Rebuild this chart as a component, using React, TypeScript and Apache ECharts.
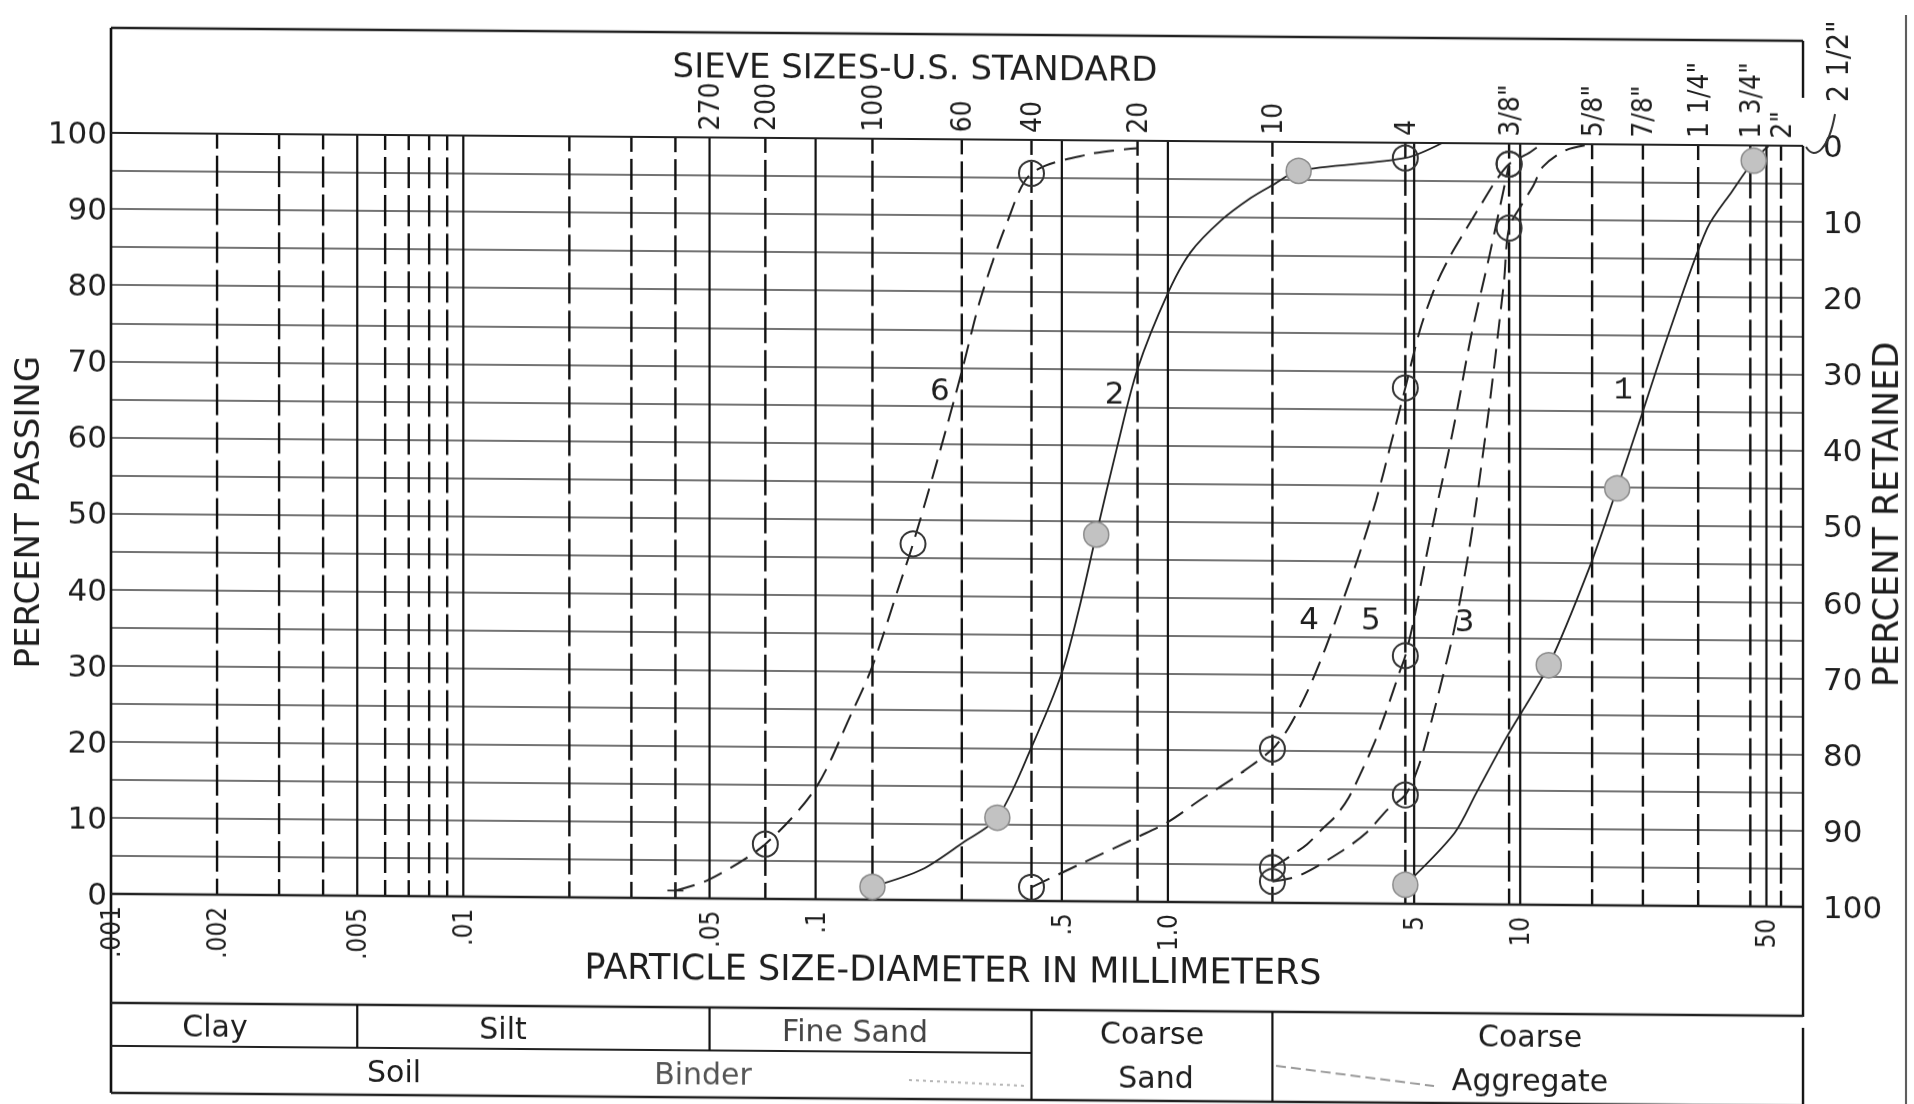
import React, { useEffect, useRef } from 'react';
import * as echarts from 'echarts';

// ---------------- data ----------------
// particle size axis (mm, log scale)
const mmMin = 0.001;
const mmMax = 63.5; // 2 1/2"
const mmTickValues = [0.001, 0.002, 0.005, 0.01, 0.05, 0.1, 0.5, 1, 5, 10, 50];
const mmTickLabels = ['.001', '.002', '.005', '.01', '.05', '.1', '.5', '1.0', '5', '10', '50'];
const solidMmLines = [0.005, 0.01, 0.05, 0.1, 0.5, 1, 5, 10, 50];
const dashedMmLines = [0.002, 0.003, 0.004, 0.006, 0.007, 0.008, 0.009, 0.02, 0.03, 0.04];

// sieve sizes (top axis) and where their lines are drawn (mm)
const sieveLabels = ['270', '200', '100', '60', '40', '20', '10', '4', '3/8"', '5/8"', '7/8"', '1 1/4"', '1 3/4"', '2"'];
const sieveMm = [0.05, 0.072, 0.145, 0.26, 0.41, 0.82, 1.98, 4.72, 9.3, 16, 22.3, 32, 45, 55];
const edgeSieveLabel = '2 1/2"';

// soil classification table
const soilBounds = [0.005, 0.05, 0.41, 1.98];
const soilTopRow = ['Clay', 'Silt', 'Fine Sand', 'Coarse', 'Coarse'];
const soilBottomRow = ['Soil', 'Binder', 'Sand', 'Aggregate'];

// curves: [mm, percent passing, marker] marker: 0 none, 1 open circle, 2 shaded circle, 3 plus
type Pt = [number, number, number];
const curve1: Pt[] = [
  [4.72, 2.5, 2], [6.5, 9.3, 0], [7.5, 14.6, 0], [9.1, 21.8, 0], [12.05, 31.5, 2], [15.7, 44.3, 0],
  [18.85, 54.8, 2], [21.6, 63, 0], [26.3, 75, 0], [33.9, 89, 0], [40, 94, 0], [46, 98, 2], [50.8, 100, 0],
];
const curve2: Pt[] = [
  [0.145, 1.7, 2], [0.2, 4, 0], [0.262, 7.6, 0], [0.328, 10.9, 2], [0.41, 20.2, 0], [0.5, 30, 0],
  [0.56, 38.5, 0], [0.626, 48.2, 2], [0.72, 60, 0], [0.82, 70, 0], [1.0, 80, 0], [1.16, 85.4, 0],
  [1.415, 89.6, 0], [1.72, 92.6, 0], [1.98, 94.3, 0], [2.35, 96.2, 2], [4.72, 98, 1], [6.0, 100, 0],
];
const curve3: Pt[] = [
  [1.98, 2.8, 1], [2.36, 3.6, 0], [3.08, 6.7, 0], [3.66, 9.3, 0], [4.21, 12.4, 0], [4.72, 14.3, 1],
  [5.14, 18, 0], [5.56, 23.5, 0], [6.0, 29.5, 0], [6.42, 35, 0], [6.85, 41.5, 0], [7.3, 49, 0],
  [7.75, 57.5, 0], [8.2, 66, 0], [8.65, 75, 0], [9.0, 82, 0], [9.3, 88.9, 1], [10.1, 92, 0],
  [10.9, 94.5, 0], [11.6, 97, 0], [13.5, 99.2, 0], [16, 100, 0],
];
const curve4: Pt[] = [
  [0.41, 1.8, 1], [0.57, 5, 0], [0.82, 8.5, 0], [1.0, 10.5, 0], [1.24, 13.5, 0], [1.61, 17, 0],
  [1.98, 20.2, 1], [2.2, 23, 0], [2.5, 28, 0], [2.8, 33.5, 0], [3.15, 40, 0], [3.5, 46, 0], [3.9, 53, 0],
  [4.3, 60.5, 0], [4.72, 67.8, 1], [5.2, 75.5, 0], [5.75, 81.2, 0], [6.3, 85, 0], [7.0, 88.6, 0],
  [7.8, 92.2, 0], [8.5, 95, 0], [9.3, 97.3, 1], [10.6, 98.8, 0], [11.5, 100, 0],
];
const curve5: Pt[] = [
  [1.98, 4.6, 1], [2.2, 6, 0], [2.48, 7.7, 0], [2.75, 9.8, 0], [3.0, 11.5, 0], [3.26, 13.9, 0],
  [3.55, 17.4, 0], [3.87, 21.3, 0], [4.21, 25.9, 0], [4.55, 30.5, 0], [4.72, 32.6, 1], [5.0, 37.5, 0],
  [5.35, 44.5, 0], [5.75, 51.5, 0], [6.2, 58.5, 0], [6.65, 65.4, 0], [7.25, 74.6, 0], [8.2, 85.5, 0],
  [9.3, 97.3, 1],
];
const curve6: Pt[] = [
  [0.04, 1, 3], [0.05, 2.5, 0], [0.072, 7.2, 1], [0.1, 14.6, 0], [0.126, 24.3, 0], [0.145, 30.7, 0],
  [0.173, 41.4, 0], [0.189, 46.8, 1], [0.2254, 59, 0], [0.26, 69.5, 0], [0.294, 79.1, 0], [0.35, 89.2, 0],
  [0.41, 95.6, 1], [0.6, 98.2, 0], [0.82, 99, 0],
];
const curveNames = ['1', '2', '3', '4', '5', '6'];
const curveData = [curve1, curve2, curve3, curve4, curve5, curve6];
const curveDashed = [false, false, true, true, true, true];
// curve number labels placed at [mm, percent]
const curveLabelPos: [string, number, number][] = [
  ['6', 0.2254, 67.2], ['2', 0.706, 66.9], ['4', 2.515, 37.5], ['5', 3.77, 37.4], ['3', 6.95, 37.3], ['1', 19.6, 67.7],
];

// ---------------- styling ----------------
const COND = '"DejaVu Sans Condensed", "DejaVu Sans", sans-serif';
const WIDE = '"DejaVu Sans", sans-serif';
const INK = '#1e1e1e';
const PLUS = 'path://M0,9L20,9L20,11L0,11Z M9,0L11,0L11,20L9,20Z';

function markerProps(m: number): any {
  if (m === 1) {
    return { symbol: 'circle', symbolSize: 25, itemStyle: { color: 'rgba(255,255,255,0)', borderColor: '#333', borderWidth: 2 } };
  }
  if (m === 2) {
    return { symbol: 'circle', symbolSize: 25, itemStyle: { color: '#c2c2c2', borderColor: '#8c8c8c', borderWidth: 1.5 } };
  }
  if (m === 3) {
    return { symbol: PLUS, symbolSize: 16, itemStyle: { color: '#222' } };
  }
  return { symbol: 'none' };
}

export default function App() {
  const ref = useRef<HTMLDivElement>(null);

  useEffect(() => {
    const el = ref.current;
    if (!el) return;
    const chart = echarts.init(el, undefined, { renderer: 'svg' });

    const series: any[] = curveData.map((pts, i) => ({
      type: 'line',
      name: curveNames[i],
      silent: true,
      smooth: 0.3,
      showSymbol: true,
      showAllSymbol: true,
      z: 4,
      lineStyle: { color: '#222', width: curveDashed[i] ? 2 : 1.8, type: curveDashed[i] ? [20, 10] : 'solid' },
      data: pts.map(([x, y, m]) => ({ value: [x, y], ...markerProps(m) })),
    }));

    chart.setOption({
      animation: false,
      backgroundColor: '#ffffff',
      grid: { left: 111, right: 111, top: 132, bottom: 211, show: false },
      xAxis: {
        type: 'log',
        logBase: 10,
        min: mmMin,
        max: mmMax,
        axisLine: { show: false },
        axisTick: { show: false },
        axisLabel: { show: false },
        splitLine: { show: false },
      },
      yAxis: [
        {
          type: 'value',
          min: 0,
          max: 100,
          interval: 5,
          axisLine: { show: false },
          axisTick: { show: false },
          axisLabel: {
            formatter: (v: number) => (v % 10 === 0 ? String(v) : ''),
            fontSize: 31,
            fontFamily: WIDE,
            color: INK,
            margin: 4,
          },
          splitLine: { show: true, lineStyle: { color: '#444', width: 1.5 } },
        },
        {
          type: 'value',
          position: 'right',
          inverse: true,
          min: 0,
          max: 100,
          interval: 10,
          axisLine: { show: false },
          axisTick: { show: false },
          splitLine: { show: false },
          axisLabel: { fontSize: 31, fontFamily: WIDE, color: INK, margin: 20 },
        },
      ],
      series,
    });

    const X = (v: number) => chart.convertToPixel({ xAxisIndex: 0 }, v) as unknown as number;
    const Y = (v: number) => chart.convertToPixel({ yAxisIndex: 0 }, v) as unknown as number;
    const top = Y(100);
    const bot = Y(0);
    const left = X(mmMin);
    const right = X(mmMax);
    const P = (bot - top) / 20;

    const g: any[] = [];
    const line = (x1: number, y1: number, x2: number, y2: number, w: number, stroke = '#111', dash?: number[], off = 0) =>
      g.push({
        type: 'line',
        silent: true,
        z: 1,
        shape: { x1, y1, x2, y2 },
        style: { stroke, lineWidth: w, lineDash: dash || null, lineDashOffset: off },
      });
    const text = (t: string, x: number, y: number, size: number, o: any = {}) =>
      g.push({
        type: 'text',
        silent: true,
        z: 6,
        x,
        y,
        rotation: o.rot || 0,
        style: {
          text: t,
          fontSize: size,
          fontFamily: o.family || COND,
          fill: o.fill || INK,
          align: o.align || 'center',
          verticalAlign: o.va || 'middle',
        },
      });

    // vertical grid lines
    const vdash = [P - 7, 7];
    const voff = P / 2 - 3.5;
    solidMmLines.forEach((v) => line(X(v), top, X(v), bot, 2.2));
    dashedMmLines.forEach((v) => line(X(v), top, X(v), bot, 2.4, '#111', vdash, voff));
    sieveMm.forEach((v, i) => {
      if (i === 0) return; // 270 sits on the .05 line
      line(X(v), top, X(v), bot, 2.4, '#111', vdash, voff);
    });

    // frame
    const frameTop = 27;
    const tableTop = 1002;
    const tableMid = 1045;
    const tableBot = 1092;
    line(left, frameTop, right, frameTop, 2.5, '#222');
    line(left, frameTop, left, tableBot, 2.6, '#111');
    line(left, top, right, top, 2.2, '#222');
    line(left, bot, right, bot, 2.6, '#222');
    line(right, frameTop, right, 84, 2.4);
    line(right, top, right, 1003, 2.4);
    line(right, 1014, right, tableBot, 2.4);
    // leader to 2 1/2"
    g.push({
      type: 'bezierCurve',
      silent: true,
      z: 2,
      shape: { x1: right + 3, y1: top + 1, cpx1: right + 12, cpy1: top + 16, cpx2: right + 26, cpy2: top + 2, x2: right + 32, y2: top - 32 },
      style: { stroke: '#333', lineWidth: 2, fill: null },
    });
    // page edge of the scan
    line(1906, 0, 1906, 1104, 2, '#555');

    // table
    line(left, tableTop, right, tableTop, 2.4, '#222');
    line(left, tableMid, X(soilBounds[2]), tableMid, 2.2, '#222');
    line(left, tableBot, right, tableBot, 2.6, '#222');
    line(X(soilBounds[0]), tableTop, X(soilBounds[0]), tableMid, 2.2);
    line(X(soilBounds[1]), tableTop, X(soilBounds[1]), tableMid, 2.2);
    line(X(soilBounds[2]), tableTop, X(soilBounds[2]), tableBot, 2.2);
    line(X(soilBounds[3]), tableTop, X(soilBounds[3]), tableBot, 2.2);
    // faint smudged leader marks in the bottom row
    line(1276, 1056, 1434, 1075, 2, '#9a9a9a', [10, 5]);
    line(909, 1073, 1025, 1078, 2, '#b5b5b5', [3, 4]);
    const rowA = 1025;
    const rowB = 1069;
    text(soilTopRow[0], 215, rowA, 30, { family: WIDE });
    text(soilTopRow[1], 503, rowA, 30, { family: WIDE });
    text(soilTopRow[2], 855, rowA, 30, { family: WIDE, fill: '#444' });
    text(soilTopRow[3], 1152, rowA, 30, { family: WIDE });
    text(soilTopRow[4], 1530, rowA, 30, { family: WIDE });
    text(soilBottomRow[0], 394, rowB, 30, { family: WIDE });
    text(soilBottomRow[1], 703, rowB, 30, { family: WIDE, fill: '#555' });
    text(soilBottomRow[2], 1156, rowB, 30, { family: WIDE });
    text(soilBottomRow[3], 1530, rowB, 30, { family: WIDE });

    // bottom tick labels (rotated)
    mmTickValues.forEach((v, i) => text(mmTickLabels[i], X(v), bot + 12, 26, { rot: Math.PI / 2, align: 'right' }));
    // top sieve labels (rotated)
    sieveMm.forEach((v, i) => text(sieveLabels[i], X(v), top - 7, 28, { rot: Math.PI / 2, align: 'left' }));
    text(edgeSieveLabel, right + 34, top - 44, 30, { rot: Math.PI / 2, align: 'left' });

    // titles
    text('SIEVE SIZES-U.S. STANDARD', 915, 60, 34, { family: WIDE });
    text('PARTICLE SIZE-DIAMETER IN MILLIMETERS', 953, 962, 35, { family: WIDE });
    text('PERCENT PASSING', 27, 512, 34, { rot: Math.PI / 2, family: WIDE });
    text('PERCENT RETAINED', 1886, 500, 35, { rot: Math.PI / 2, family: WIDE });

    // curve labels
    curveLabelPos.forEach(([t, mm, p]) =>
      text(t, X(mm), Y(p), 31, { family: t === '1' ? '"Liberation Mono", monospace' : WIDE })
    );

    chart.setOption({ graphic: { elements: g } });

    return () => chart.dispose();
  }, []);

  return (
    <div
      ref={ref}
      style={{
        position: 'fixed',
        left: 0,
        top: 0,
        width: 1914,
        height: 1104,
        background: '#fff',
        transform: 'skewY(0.44deg)',
        transformOrigin: '0 0',
      }}
    />
  );
}
